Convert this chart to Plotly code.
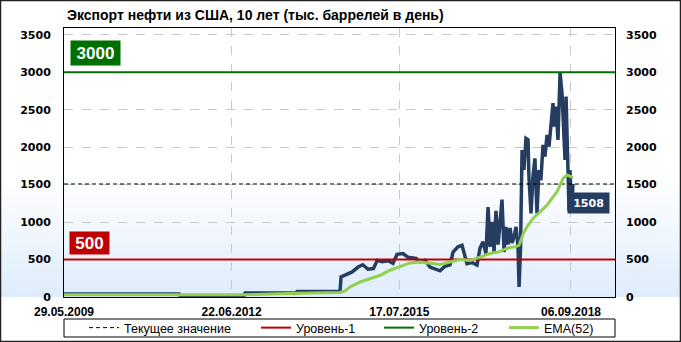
import plotly.graph_objects as go

# ---------------- data ----------------
TITLE = "Экспорт нефти из США, 10 лет (тыс. баррелей в день)"

export_dates = [
    "2009-05-29", "2011-07-07", "2011-07-14", "2012-09-13", "2012-09-20", "2013-08-26",
    "2013-09-02", "2014-06-16", "2014-06-23", "2014-07-20", "2014-09-05", "2014-10-15",
    "2014-11-15", "2014-12-20", "2015-01-25", "2015-02-20", "2015-03-24", "2015-05-03",
    "2015-06-05", "2015-07-02", "2015-08-11", "2015-09-14", "2015-10-10", "2015-11-06",
    "2015-12-03", "2016-01-05", "2016-02-07", "2016-03-12", "2016-04-14", "2016-05-17",
    "2016-06-20", "2016-07-10", "2016-08-12", "2016-09-08", "2016-09-21", "2016-10-11",
    "2016-11-14", "2016-12-17", "2017-01-06", "2017-01-26", "2017-02-15", "2017-03-01",
    "2017-03-14", "2017-03-28", "2017-04-10", "2017-04-23", "2017-05-07", "2017-05-20",
    "2017-06-02", "2017-06-16", "2017-06-29", "2017-07-12", "2017-07-26", "2017-08-08",
    "2017-08-21", "2017-09-04", "2017-09-17", "2017-09-24", "2017-10-04", "2017-10-14",
    "2017-10-27", "2017-11-09", "2017-11-23", "2017-11-29", "2017-12-13", "2017-12-26",
    "2018-01-08", "2018-01-22", "2018-02-04", "2018-02-17", "2018-03-03", "2018-03-16",
    "2018-03-30", "2018-04-12", "2018-04-25", "2018-05-09", "2018-05-15", "2018-05-29",
    "2018-06-11", "2018-06-18", "2018-06-25", "2018-07-08", "2018-07-15", "2018-07-28",
    "2018-08-04", "2018-08-17", "2018-08-24", "2018-08-30", "2018-09-06", "2018-09-12",
    "2018-09-19",
]
export_values = [
    40, 40, 15, 15, 55, 55,
    75, 75, 268, 290, 335, 400,
    430, 370, 380, 490, 470, 485,
    450, 570, 580, 530, 525, 515,
    470, 490, 400, 380, 350, 410,
    430, 600, 670, 690, 600, 446,
    460, 425, 650, 736, 580, 1200,
    669, 1003, 600, 1150, 700, 1026,
    1300, 600, 936, 700, 920, 720,
    800, 936, 670, 134, 670, 1960,
    1695, 2118, 2100, 1605, 1115, 1605,
    1850, 1115, 1695, 1560, 2030, 1873,
    2163, 2006, 2341, 2587, 2274, 2542,
    2096, 2497, 2990, 2720, 2363, 1828,
    2675, 1828, 1150, 1695, 1383, 1150,
    1508,
]

ema_dates = [
    "2009-05-29", "2011-07-14", "2012-09-20", "2013-09-02", "2014-06-16", "2014-07-20",
    "2014-08-22", "2014-10-28", "2015-01-03", "2015-03-11", "2015-05-16", "2015-07-09",
    "2015-08-25", "2015-09-27", "2015-12-03", "2016-02-07", "2016-04-14", "2016-06-20",
    "2016-08-26", "2016-11-01", "2017-01-06", "2017-03-14", "2017-05-20", "2017-06-22",
    "2017-07-26", "2017-08-28", "2017-09-24", "2017-10-21", "2017-11-16", "2017-12-26",
    "2018-02-11", "2018-03-30", "2018-05-09", "2018-06-05", "2018-06-25", "2018-07-15",
    "2018-08-10", "2018-08-30", "2018-09-19",
]
ema_values = [
    30, 35, 30, 50, 60, 80,
    134, 200, 246, 290, 357, 400,
    430, 455, 468, 455, 433, 468,
    500, 486, 535, 580, 605, 640,
    660, 669, 690, 840, 936, 1048,
    1137, 1226, 1337, 1404, 1494, 1583,
    1628, 1614, 1597,
]

current_value = 1508
level1 = 500
level2 = 3000

x_tick_dates = ["2009-05-29", "2012-06-22", "2015-07-17", "2018-09-06"]
x_tick_text = ["29.05.2009", "22.06.2012", "17.07.2015", "06.09.2018"]
y_ticks = [0, 500, 1000, 1500, 2000, 2500, 3000, 3500]

X_START, X_END = "2009-05-29", "2019-06-27"
Y_MIN, Y_MAX = 0, 3590

# ---------------- style ----------------
W, H = 681, 342
ML, MR, MT, MB = 64, 66, 28, 45
PW, PH = W - ML - MR, H - MT - MB

NAVY = "#243d61"
EMA_C = "#92d050"
RED = "#c00000"
DGREEN = "#007000"

fig = go.Figure()

fig.add_trace(go.Scatter(x=export_dates, y=export_values, mode="lines",
                         line=dict(color=NAVY, width=3.5), showlegend=False,
                         hoverinfo="skip"))
fig.add_trace(go.Scatter(x=[X_START, X_END], y=[level1, level1], mode="lines",
                         name="Уровень-1", line=dict(color=RED, width=2),
                         legend="legend2"))
fig.add_trace(go.Scatter(x=[X_START, X_END], y=[level2, level2], mode="lines",
                         name="Уровень-2", line=dict(color=DGREEN, width=2),
                         legend="legend3"))
fig.add_trace(go.Scatter(x=[X_START, X_END], y=[current_value, current_value], mode="lines",
                         name="Текущее значение", line=dict(color="black", width=1, dash="4px,3px"),
                         legend="legend"))
fig.add_trace(go.Scatter(x=ema_dates, y=ema_values, mode="lines", name="EMA(52)",
                         line=dict(color=EMA_C, width=3), legend="legend4"))
# invisible trace for right axis
fig.add_trace(go.Scatter(x=[X_START], y=[Y_MIN], yaxis="y2", mode="markers",
                         marker=dict(opacity=0), showlegend=False, hoverinfo="skip"))

# gradient background bands
shapes = []
gx0, gx1 = -ML / PW, 1 + MR / PW
top_px = 180.0
bottom_px = MT + PH
n = 30
for i in range(n):
    p0 = top_px + (bottom_px - top_px) * i / n
    p1 = top_px + (bottom_px - top_px) * (i + 1) / n
    t = (i + 0.5) / n
    r = round(255 + (222 - 255) * t)
    g = round(255 + (236 - 255) * t)
    b = round(255 + (252 - 255) * t)
    shapes.append(dict(type="rect", xref="paper", yref="paper", layer="below",
                       x0=gx0, x1=gx1,
                       y0=(bottom_px - p1) / PH, y1=(bottom_px - p0) / PH + 0.002,
                       fillcolor=f"rgb({r},{g},{b})", line=dict(width=0)))
# legend border box
shapes.append(dict(type="rect", xref="paper", yref="paper",
                   x0=0, x1=1, y0=(bottom_px - 337) / PH, y1=(bottom_px - 319) / PH,
                   line=dict(color="black", width=1), fillcolor="rgba(0,0,0,0)"))
# outer frame
shapes.append(dict(type="rect", xref="paper", yref="paper",
                   x0=(-ML + 0.5) / PW, x1=(PW + MR - 0.5) / PW,
                   y0=(-MB + 0.5) / PH, y1=(PH + MT - 0.5) / PH,
                   line=dict(color="#222222", width=1.5), fillcolor="rgba(0,0,0,0)"))

annotations = [
    dict(xref="paper", yref="y", x=0, y=level2, xanchor="left", yanchor="bottom",
         xshift=6, yshift=6, text="<b>3000</b>", showarrow=False, bgcolor=DGREEN,
         width=47, height=22,
         font=dict(family="Liberation Sans", size=17, color="white")),
    dict(xref="paper", yref="y", x=0, y=level1, xanchor="left", yanchor="bottom",
         xshift=5, yshift=5, text="<b>500</b>", showarrow=False, bgcolor=RED,
         width=37, height=20,
         font=dict(family="Liberation Sans", size=17, color="white")),
    dict(xref="x", yref="y", x=export_dates[-1], y=current_value, xanchor="left",
         yanchor="top", xshift=-6, yshift=-8, text="<b>1508</b>", showarrow=False,
         bgcolor=NAVY, width=39, height=18,
         font=dict(family="DejaVu Sans", size=11, color="white")),
]

tickfont = dict(family="DejaVu Sans", size=11, color="black", weight="bold")
leg_common = dict(orientation="h", yanchor="middle", xanchor="left",
                  yref="container", y=1 - 328 / H,
                  bgcolor="rgba(0,0,0,0)", borderwidth=0,
                  font=dict(family="Liberation Sans", size=12.5, color="black"))


def lx(px):
    return (px - ML) / PW


fig.update_layout(
    width=W, height=H,
    margin=dict(l=ML, r=MR, t=MT, b=MB, autoexpand=False),
    paper_bgcolor="white", plot_bgcolor="rgba(0,0,0,0)",
    title=dict(text="<b>" + TITLE + "</b>", xref="container", yref="container",
               x=67 / W, xanchor="left", y=1 - 15 / H, yanchor="middle",
               font=dict(family="Liberation Sans", size=14, color="black")),
    xaxis=dict(type="date", range=[X_START, X_END], tickvals=x_tick_dates, ticktext=x_tick_text,
               showgrid=True, gridcolor="#c8c8c8", griddash="dash", gridwidth=1,
               showline=True, linecolor="black", linewidth=1, mirror=True,
               ticks="", ticklabelstandoff=4,
               tickfont=dict(family="Liberation Sans", size=12, color="black", weight="bold"),
               zeroline=False),
    yaxis=dict(range=[Y_MIN, Y_MAX], tickvals=y_ticks, showgrid=True, gridcolor="#c8c8c8",
               griddash="dash", gridwidth=1, showline=True, linecolor="black", linewidth=1,
               mirror=True, ticks="", ticklabelstandoff=10, tickfont=tickfont, zeroline=False),
    yaxis2=dict(range=[Y_MIN, Y_MAX], tickvals=y_ticks, overlaying="y", side="right",
                showgrid=False, showline=False, ticks="", ticklabelstandoff=10,
                tickfont=tickfont, zeroline=False),
    legend=dict(**leg_common, x=lx(84)),
    legend2=dict(**leg_common, x=lx(256)),
    legend3=dict(**leg_common, x=lx(379)),
    legend4=dict(**leg_common, x=lx(504)),
    shapes=shapes,
    annotations=annotations,
    showlegend=True,
)

fig.write_html("out.html")
